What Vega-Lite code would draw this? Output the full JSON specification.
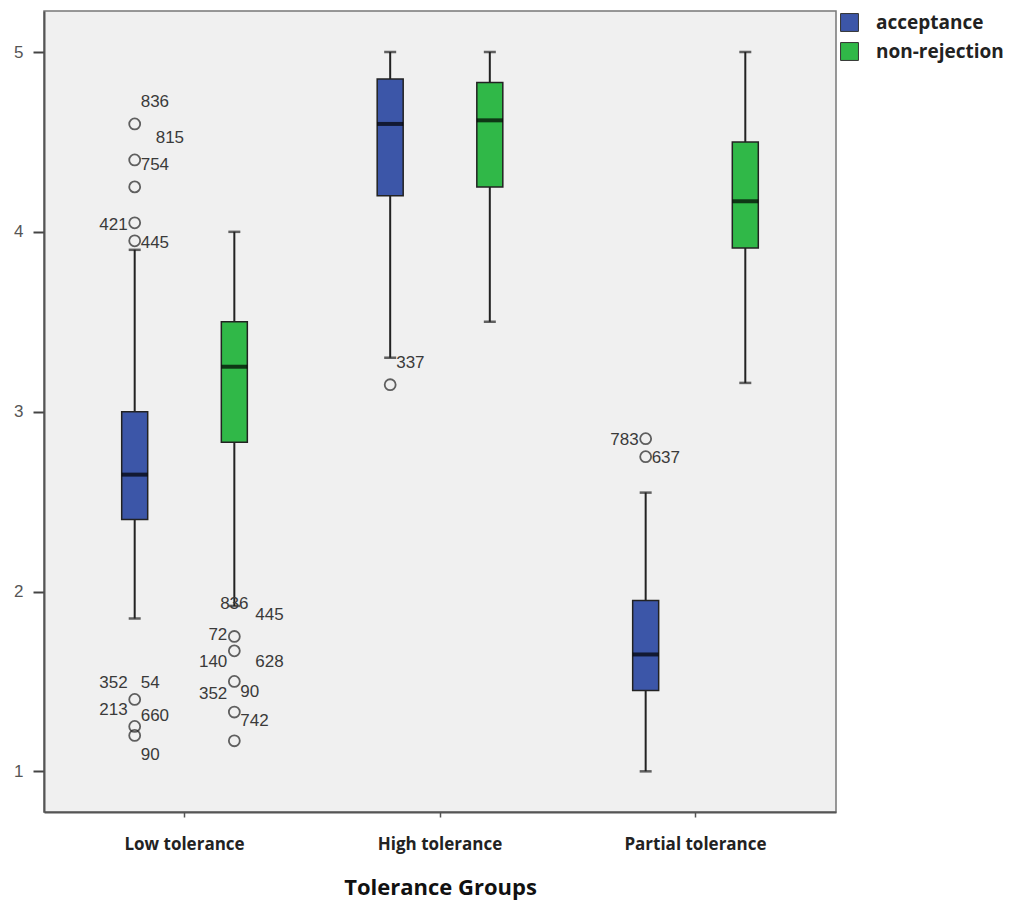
{
  "$schema": "https://vega.github.io/schema/vega-lite/v6.json",
  "width": 792,
  "height": 801,
  "autosize": "none",
  "padding": {"left": 44, "top": 11, "right": 191, "bottom": 92},
  "background": "white",
  "config": {
    "view": {"fill": "#f0f0f0", "stroke": "#777777", "strokeWidth": 1.5},
    "axis": {"grid": false}
  },
  "datasets": {
    "boxes": [
      {"group": "Low tolerance", "series": "acceptance", "lower": 1.85, "q1": 2.4, "median": 2.65, "q3": 3.0, "upper": 3.9},
      {"group": "Low tolerance", "series": "non-rejection", "lower": 1.92, "q1": 2.83, "median": 3.25, "q3": 3.5, "upper": 4.0},
      {"group": "High tolerance", "series": "acceptance", "lower": 3.3, "q1": 4.2, "median": 4.6, "q3": 4.85, "upper": 5.0},
      {"group": "High tolerance", "series": "non-rejection", "lower": 3.5, "q1": 4.25, "median": 4.62, "q3": 4.83, "upper": 5.0},
      {"group": "Partial tolerance", "series": "acceptance", "lower": 1.0, "q1": 1.45, "median": 1.65, "q3": 1.95, "upper": 2.55},
      {"group": "Partial tolerance", "series": "non-rejection", "lower": 3.16, "q1": 3.91, "median": 4.17, "q3": 4.5, "upper": 5.0}
    ],
    "outliers": [
      {"group": "Low tolerance", "series": "acceptance", "value": 4.6},
      {"group": "Low tolerance", "series": "acceptance", "value": 4.4},
      {"group": "Low tolerance", "series": "acceptance", "value": 4.25},
      {"group": "Low tolerance", "series": "acceptance", "value": 4.05},
      {"group": "Low tolerance", "series": "acceptance", "value": 3.95},
      {"group": "Low tolerance", "series": "acceptance", "value": 1.4},
      {"group": "Low tolerance", "series": "acceptance", "value": 1.25},
      {"group": "Low tolerance", "series": "acceptance", "value": 1.2},
      {"group": "Low tolerance", "series": "non-rejection", "value": 1.75},
      {"group": "Low tolerance", "series": "non-rejection", "value": 1.67},
      {"group": "Low tolerance", "series": "non-rejection", "value": 1.5},
      {"group": "Low tolerance", "series": "non-rejection", "value": 1.33},
      {"group": "Low tolerance", "series": "non-rejection", "value": 1.17},
      {"group": "High tolerance", "series": "acceptance", "value": 3.15},
      {"group": "Partial tolerance", "series": "acceptance", "value": 2.85},
      {"group": "Partial tolerance", "series": "acceptance", "value": 2.75}
    ],
    "labels": [
      {"group": "Low tolerance", "series": "acceptance", "value": 4.72, "side": "right", "label": "836"},
      {"group": "Low tolerance", "series": "acceptance", "value": 4.52, "side": "farright", "label": "815"},
      {"group": "Low tolerance", "series": "acceptance", "value": 4.37, "side": "right", "label": "754"},
      {"group": "Low tolerance", "series": "acceptance", "value": 4.04, "side": "left", "label": "421"},
      {"group": "Low tolerance", "series": "acceptance", "value": 3.94, "side": "right", "label": "445"},
      {"group": "Low tolerance", "series": "acceptance", "value": 1.49, "side": "left", "label": "352"},
      {"group": "Low tolerance", "series": "acceptance", "value": 1.49, "side": "right", "label": "54"},
      {"group": "Low tolerance", "series": "acceptance", "value": 1.34, "side": "left", "label": "213"},
      {"group": "Low tolerance", "series": "acceptance", "value": 1.31, "side": "right", "label": "660"},
      {"group": "Low tolerance", "series": "acceptance", "value": 1.09, "side": "right", "label": "90"},
      {"group": "Low tolerance", "series": "non-rejection", "value": 1.93, "side": "center", "label": "836"},
      {"group": "Low tolerance", "series": "non-rejection", "value": 1.87, "side": "farright", "label": "445"},
      {"group": "Low tolerance", "series": "non-rejection", "value": 1.76, "side": "left", "label": "72"},
      {"group": "Low tolerance", "series": "non-rejection", "value": 1.61, "side": "left", "label": "140"},
      {"group": "Low tolerance", "series": "non-rejection", "value": 1.61, "side": "farright", "label": "628"},
      {"group": "Low tolerance", "series": "non-rejection", "value": 1.43, "side": "left", "label": "352"},
      {"group": "Low tolerance", "series": "non-rejection", "value": 1.44, "side": "right", "label": "90"},
      {"group": "Low tolerance", "series": "non-rejection", "value": 1.28, "side": "right", "label": "742"},
      {"group": "High tolerance", "series": "acceptance", "value": 3.27, "side": "right", "label": "337"},
      {"group": "Partial tolerance", "series": "acceptance", "value": 2.84, "side": "left", "label": "783"},
      {"group": "Partial tolerance", "series": "acceptance", "value": 2.74, "side": "right", "label": "637"}
    ]
  },
  "encoding": {
    "x": {
      "field": "group",
      "type": "nominal",
      "sort": ["Low tolerance", "High tolerance", "Partial tolerance"],
      "scale": {"domain": ["Low tolerance", "High tolerance", "Partial tolerance"], "paddingInner": 0.22, "paddingOuter": 0.16},
      "axis": {
        "title": "Tolerance Groups",
        "labelAngle": 0,
        "labelFont": "Open Sans",
        "labelFontWeight": "bold",
        "labelFontSize": 17,
        "labelColor": "#222222",
        "labelPadding": 19,
        "tickSize": 5,
        "tickColor": "#555555",
        "tickWidth": 1.5,
        "domainColor": "#555555",
        "domainWidth": 2,
        "titleFont": "Open Sans",
        "titleFontWeight": "bold",
        "titleFontSize": 22,
        "titleColor": "#111111",
        "titlePadding": 25
      }
    },
    "xOffset": {
      "field": "series",
      "type": "nominal",
      "scale": {"domain": ["acceptance", "non-rejection"], "paddingInner": 0, "paddingOuter": 0}
    }
  },
  "layer": [
    {
      "data": {"name": "boxes"},
      "mark": {"type": "rule", "color": "#222222", "strokeWidth": 2},
      "encoding": {
        "y": {
          "field": "lower",
          "type": "quantitative",
          "scale": {"domain": [0.774, 5.228], "nice": false, "zero": false},
          "axis": {
            "title": null,
            "values": [1, 2, 3, 4, 5],
            "format": "d",
            "labelFont": "Liberation Sans",
            "labelFontSize": 17,
            "labelColor": "#555555",
            "tickSize": 11,
            "tickColor": "#444444",
            "tickWidth": 2,
            "labelPadding": 10,
            "domainColor": "#555555",
            "domainWidth": 2
          }
        },
        "y2": {"field": "upper"}
      }
    },
    {
      "data": {"name": "boxes"},
      "mark": {"type": "tick", "color": "#222222", "size": 12, "thickness": 2.5, "orient": "horizontal"},
      "encoding": {"y": {"field": "upper", "type": "quantitative"}}
    },
    {
      "data": {"name": "boxes"},
      "mark": {"type": "tick", "color": "#222222", "size": 12, "thickness": 2.5, "orient": "horizontal"},
      "encoding": {"y": {"field": "lower", "type": "quantitative"}}
    },
    {
      "data": {"name": "boxes"},
      "mark": {"type": "bar", "width": 26, "stroke": "#222222", "strokeWidth": 1.5},
      "encoding": {
        "y": {"field": "q1", "type": "quantitative"},
        "y2": {"field": "q3"},
        "fill": {
          "field": "series",
          "type": "nominal",
          "scale": {"domain": ["acceptance", "non-rejection"], "range": ["#3c56a8", "#30b848"]},
          "legend": {
            "title": null,
            "orient": "none",
            "legendX": 796,
            "legendY": 2,
            "symbolType": "square",
            "symbolSize": 320,
            "symbolStrokeColor": "#333333",
            "symbolStrokeWidth": 1,
            "labelFont": "Open Sans",
            "labelFontWeight": "bold",
            "labelFontSize": 19,
            "labelColor": "#222222",
            "labelOffset": 17,
            "rowPadding": 6
          }
        }
      }
    },
    {
      "data": {"name": "boxes"},
      "mark": {"type": "tick", "color": "#000000", "size": 26, "thickness": 4, "orient": "horizontal"},
      "encoding": {"y": {"field": "median", "type": "quantitative"}}
    },
    {
      "data": {"name": "outliers"},
      "mark": {"type": "point", "shape": "circle", "filled": false, "stroke": "#222222", "strokeWidth": 1.8, "size": 120},
      "encoding": {"y": {"field": "value", "type": "quantitative"}}
    },
    {
      "data": {"name": "labels"},
      "transform": [{"filter": "datum.side === 'right'"}],
      "mark": {"type": "text", "align": "left", "baseline": "middle", "dx": 6, "font": "Liberation Sans", "fontSize": 17, "color": "#3a3a3a"},
      "encoding": {"y": {"field": "value", "type": "quantitative"}, "text": {"field": "label"}}
    },
    {
      "data": {"name": "labels"},
      "transform": [{"filter": "datum.side === 'farright'"}],
      "mark": {"type": "text", "align": "left", "baseline": "middle", "dx": 21, "font": "Liberation Sans", "fontSize": 17, "color": "#3a3a3a"},
      "encoding": {"y": {"field": "value", "type": "quantitative"}, "text": {"field": "label"}}
    },
    {
      "data": {"name": "labels"},
      "transform": [{"filter": "datum.side === 'left'"}],
      "mark": {"type": "text", "align": "right", "baseline": "middle", "dx": -7, "font": "Liberation Sans", "fontSize": 17, "color": "#3a3a3a"},
      "encoding": {"y": {"field": "value", "type": "quantitative"}, "text": {"field": "label"}}
    },
    {
      "data": {"name": "labels"},
      "transform": [{"filter": "datum.side === 'center'"}],
      "mark": {"type": "text", "align": "center", "baseline": "middle", "dx": 0, "font": "Liberation Sans", "fontSize": 17, "color": "#3a3a3a"},
      "encoding": {"y": {"field": "value", "type": "quantitative"}, "text": {"field": "label"}}
    }
  ]
}
